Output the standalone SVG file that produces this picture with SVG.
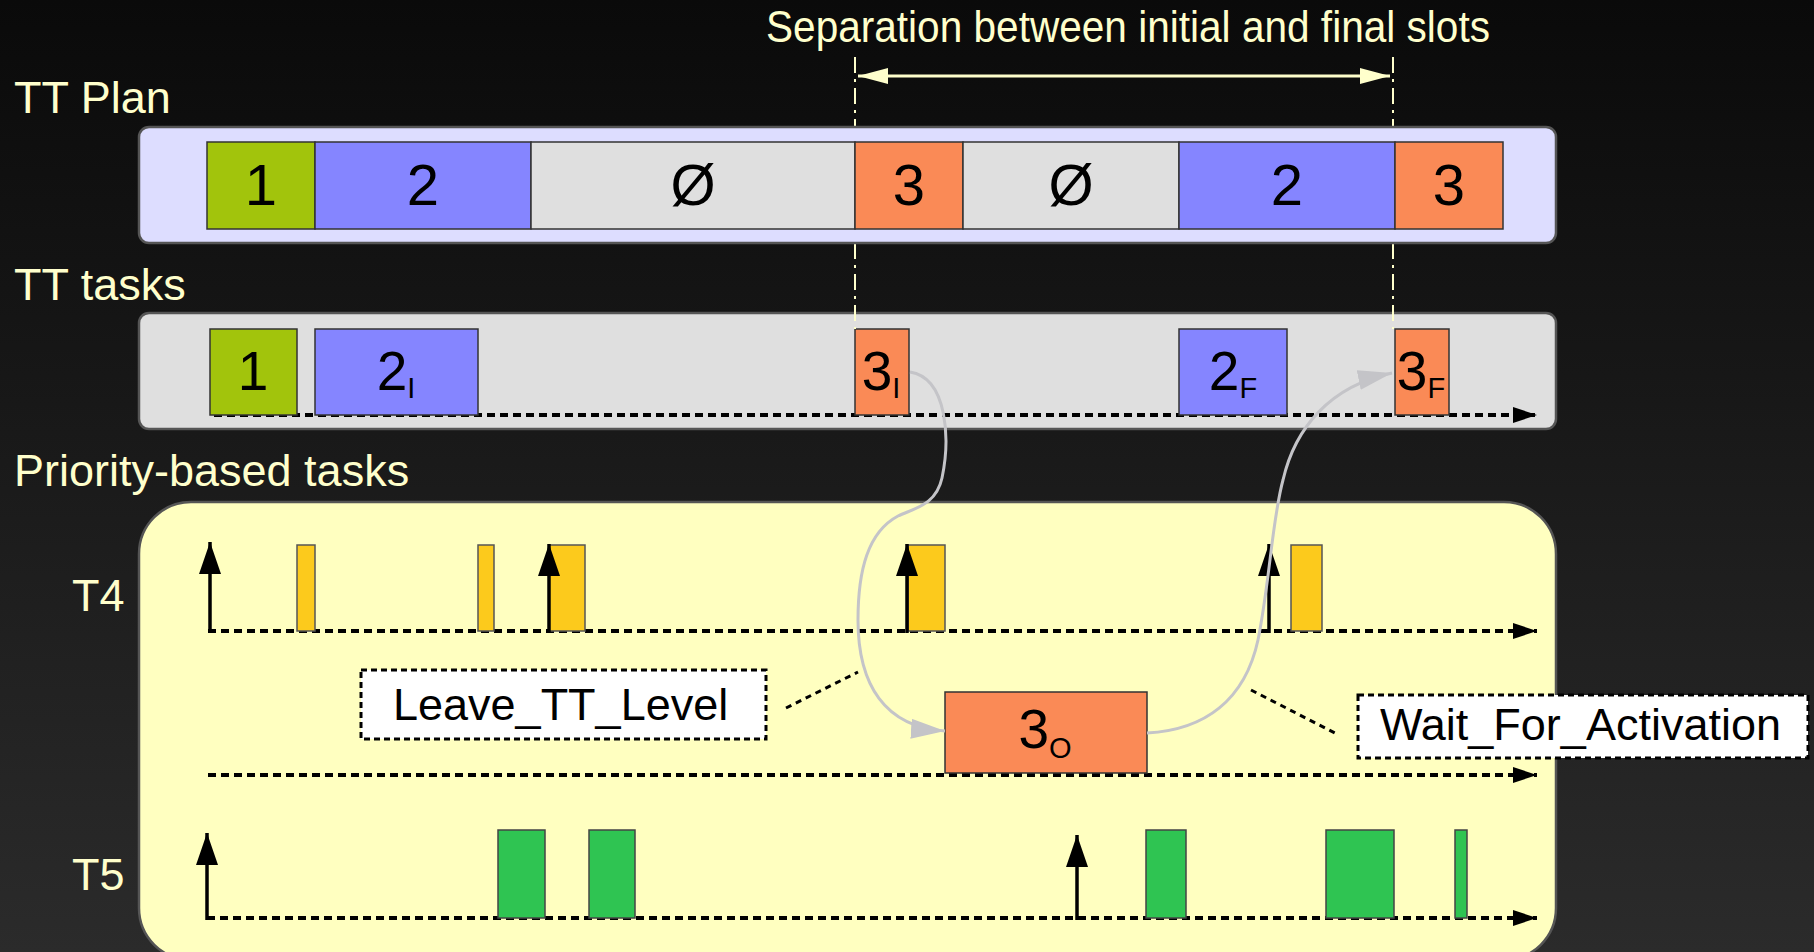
<svg xmlns="http://www.w3.org/2000/svg" width="1814" height="952" viewBox="0 0 1814 952">
<defs>
<linearGradient id="bg" x1="0" y1="0" x2="0" y2="1">
<stop offset="0" stop-color="#0a0a0a"/>
<stop offset="1" stop-color="#2b2b2b"/>
</linearGradient>
<marker id="axis" markerUnits="userSpaceOnUse" markerWidth="24" markerHeight="16" refX="24" refY="8" orient="auto" viewBox="0 0 24 16">
<path d="M0,0 L24,8 L0,16 z" fill="#000"/>
</marker>
<marker id="up" markerUnits="userSpaceOnUse" markerWidth="32" markerHeight="22" refX="32" refY="11" orient="auto" viewBox="0 0 32 22">
<path d="M0,0 L32,11 L0,22 z" fill="#000"/>
</marker>
<marker id="sep" markerUnits="userSpaceOnUse" markerWidth="30" markerHeight="16" refX="30" refY="8" orient="auto-start-reverse" viewBox="0 0 30 16">
<path d="M0,0 L30,8 L0,16 z" fill="#ffffcc"/>
</marker>
<marker id="gray" markerUnits="userSpaceOnUse" markerWidth="34" markerHeight="20" refX="34" refY="10" orient="auto" viewBox="0 0 34 20">
<path d="M0,0 L34,10 L0,20 z" fill="#c4c4c8"/>
</marker>
</defs>
<style>
.lbl{font-family:"Liberation Sans",Arial,sans-serif;font-size:45px;fill:#ffffcc}
.num{font-family:"Liberation Sans",Arial,sans-serif;font-size:58px;fill:#000;text-anchor:middle}
.tnum{font-family:"Liberation Sans",Arial,sans-serif;font-size:55px;fill:#000;text-anchor:middle}
.sub{font-size:29px}
.note{font-family:"Liberation Sans",Arial,sans-serif;font-size:45px;fill:#000}
.slot{stroke:#333;stroke-width:1.5}
.g1{fill:#a2c40c}.b2{fill:#8585ff}.gy{fill:#dfdfdf}.o3{fill:#fa8a56}
.ybar{fill:#fcca1c;stroke:#555;stroke-width:1.5}
.gbar{fill:#2fc452;stroke:#444;stroke-width:1.5}
.axis{stroke:#000;stroke-width:4;stroke-dasharray:8 5;fill:none}
.rel{stroke:#000;stroke-width:3.5;fill:none}
.guide{stroke:#ffffcc;stroke-width:2;stroke-dasharray:16 6 3 6;fill:none}
.lead{stroke:#000;stroke-width:3;stroke-dasharray:6 5;fill:none}
.curve{stroke:#c4c4c8;stroke-width:3;fill:none}
.dbox{fill:#fff;stroke:#000;stroke-width:3;stroke-dasharray:6 4}
</style>
<rect x="0" y="0" width="1814" height="952" fill="url(#bg)"/>

<g id="labels">
<text class="lbl" x="766" y="42" font-size="40.5" textLength="724" lengthAdjust="spacingAndGlyphs">Separation between initial and final slots</text>
<text class="lbl" x="14" y="113">TT Plan</text>
<text class="lbl" x="14" y="300">TT tasks</text>
<text class="lbl" x="14" y="486">Priority-based tasks</text>
<text class="lbl" x="72" y="611" font-size="47">T4</text>
<text class="lbl" x="72" y="890" font-size="47">T5</text>
</g>

<g id="tt-tasks">
<rect x="139" y="313" width="1417" height="116" rx="10" fill="#dfdfdf" stroke="#555" stroke-width="2.5"/>
<line class="axis" x1="214" y1="415" x2="1537" y2="415" marker-end="url(#axis)"/>
<g id="task-1"><rect class="slot g1" x="210" y="329" width="87" height="86"/><text class="tnum" x="253" y="390">1</text></g>
<g id="task-2I"><rect class="slot b2" x="315" y="329" width="163" height="86"/><text class="tnum" x="396" y="390">2<tspan class="sub" dy="8">I</tspan></text></g>
<g id="task-3I"><rect class="slot o3" x="855" y="329" width="54" height="86"/><text class="tnum" x="881" y="390">3<tspan class="sub" dy="8">I</tspan></text></g>
<g id="task-2F"><rect class="slot b2" x="1179" y="329" width="108" height="86"/><text class="tnum" x="1233" y="390">2<tspan class="sub" dy="8">F</tspan></text></g>
<g id="task-3F"><rect class="slot o3" x="1395" y="329" width="54" height="86"/><text class="tnum" x="1421" y="390">3<tspan class="sub" dy="8">F</tspan></text></g>
</g>

<g id="guides">
<line class="guide" x1="855" y1="57" x2="855" y2="329"/>
<line class="guide" x1="1393" y1="57" x2="1393" y2="329"/>
<line x1="858" y1="76" x2="1390" y2="76" stroke="#ffffcc" stroke-width="3" marker-start="url(#sep)" marker-end="url(#sep)"/>
</g>

<g id="tt-plan">
<rect x="139" y="127" width="1417" height="116" rx="10" fill="#ddddff" stroke="#555" stroke-width="2.5"/>
<g id="slot-1"><rect class="slot g1" x="207" y="142" width="108" height="87"/><text class="num" x="261" y="205">1</text></g>
<g id="slot-2a"><rect class="slot b2" x="315" y="142" width="216" height="87"/><text class="num" x="423" y="205">2</text></g>
<g id="slot-e1"><rect class="slot gy" x="531" y="142" width="324" height="87"/><text class="num" x="693" y="205">Ø</text></g>
<g id="slot-3a"><rect class="slot o3" x="855" y="142" width="108" height="87"/><text class="num" x="909" y="205">3</text></g>
<g id="slot-e2"><rect class="slot gy" x="963" y="142" width="216" height="87"/><text class="num" x="1071" y="205">Ø</text></g>
<g id="slot-2b"><rect class="slot b2" x="1179" y="142" width="216" height="87"/><text class="num" x="1287" y="205">2</text></g>
<g id="slot-3b"><rect class="slot o3" x="1395" y="142" width="108" height="87"/><text class="num" x="1449" y="205">3</text></g>
</g>

<g id="priority">
<rect x="139" y="502" width="1417" height="458" rx="52" fill="#ffffc0" stroke="#555" stroke-width="2.5"/>
</g>

<g id="t4">
<line class="axis" x1="208" y1="631" x2="1537" y2="631" marker-end="url(#axis)"/>
<rect class="ybar" x="297" y="545" width="18" height="86"/>
<rect class="ybar" x="478" y="545" width="16" height="86"/>
<rect class="ybar" x="549" y="545" width="36" height="86"/>
<rect class="ybar" x="908" y="545" width="37" height="86"/>
<rect class="ybar" x="1291" y="545" width="31" height="86"/>
<line class="rel" x1="210" y1="633" x2="210" y2="542" marker-end="url(#up)"/>
<line class="rel" x1="549" y1="633" x2="549" y2="544" marker-end="url(#up)"/>
<line class="rel" x1="907" y1="633" x2="907" y2="544" marker-end="url(#up)"/>
<line class="rel" x1="1269" y1="633" x2="1269" y2="544" marker-end="url(#up)"/>
</g>

<g id="t3o">
<line class="axis" x1="208" y1="775" x2="1537" y2="775" marker-end="url(#axis)"/>
<g id="task-3O"><rect class="slot o3" x="945" y="692" width="202" height="81"/><text class="tnum" x="1045" y="748" font-size="53">3<tspan class="sub" dy="10">O</tspan></text></g>
</g>

<g id="t5">
<line class="axis" x1="207" y1="918" x2="1537" y2="918" marker-end="url(#axis)"/>
<rect class="gbar" x="498" y="830" width="47" height="88"/>
<rect class="gbar" x="589" y="830" width="46" height="88"/>
<rect class="gbar" x="1146" y="830" width="40" height="88"/>
<rect class="gbar" x="1326" y="830" width="68" height="88"/>
<rect class="gbar" x="1455" y="830" width="12" height="88"/>
<line class="rel" x1="207" y1="920" x2="207" y2="833" marker-end="url(#up)"/>
<line class="rel" x1="1077" y1="920" x2="1077" y2="835" marker-end="url(#up)"/>
</g>

<g id="connectors">
<path class="curve" d="M 910 372 C 948 378, 950 440, 942 478 C 936 505, 915 508, 898 516 C 868 532, 858 570, 858 620 C 858 685, 885 727, 945 731" marker-end="url(#gray)"/>
<path class="curve" d="M 1147 733 C 1205 730, 1245 700, 1258 640 C 1270 580, 1272 520, 1283 480 C 1295 428, 1330 386, 1392 373" marker-end="url(#gray)"/>
<line class="lead" x1="786" y1="708" x2="858" y2="672"/>
<line class="lead" x1="1251" y1="690" x2="1335" y2="733"/>
</g>

<g id="leave-tt-level">
<rect class="dbox" x="361" y="670" width="405" height="69"/>
<text class="note" x="393" y="720">Leave_TT_Level</text>
</g>

<g id="wait-for-activation">
<rect class="dbox" x="1358" y="695" width="450" height="63"/>
<text class="note" x="1380" y="740">Wait_For_Activation</text>
</g>
</svg>
